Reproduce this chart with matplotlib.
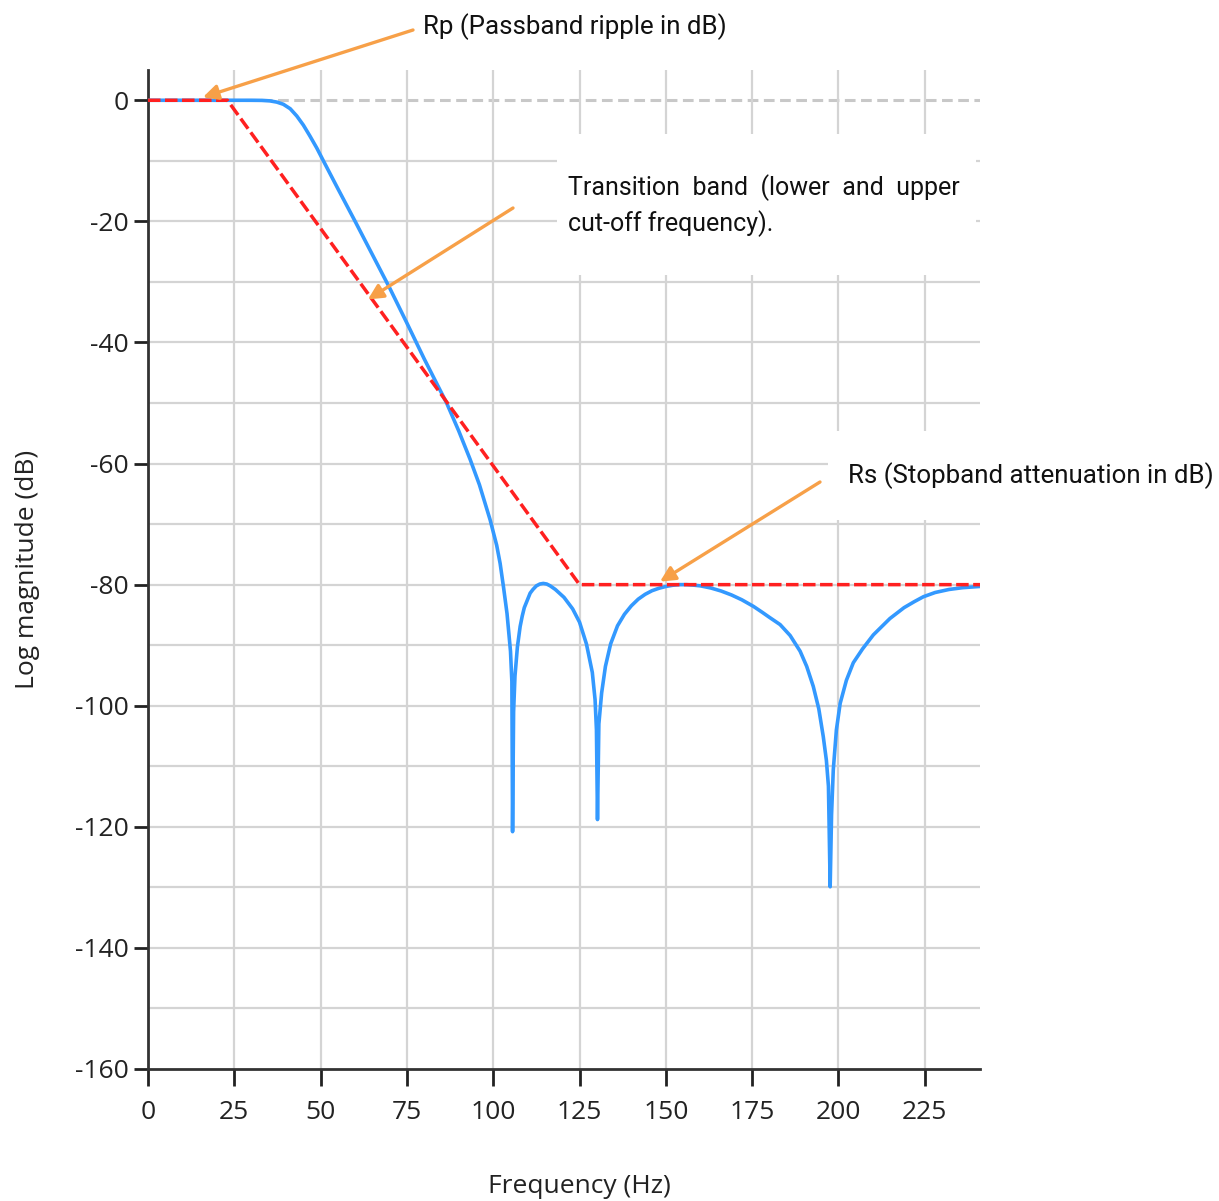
import numpy as np
import matplotlib
matplotlib.use("Agg")
import matplotlib.pyplot as plt
from matplotlib.ticker import FixedLocator
from matplotlib.patches import Rectangle

plt.rcParams['axes.unicode_minus'] = False

# Đáp ứng biên độ
tan_so = [0, 10, 20, 30, 33, 35.3, 37.3, 39.2, 41.2, 43.1, 45, 46.9, 48.9,
          50.8, 55, 60, 65, 70, 75, 80, 86.5, 90, 93.3, 96, 99.1, 101, 102,
          103, 104, 105, 105.4, 105.6, 105.9, 106.3, 107, 107.8, 108.4, 109,
          110.7, 111.5, 112.5, 113.5, 114.5, 115.5, 116.5, 118, 120.5, 123,
          125, 127, 128.7, 129.5, 129.9, 130.2, 130.6, 131.4, 132.5, 134, 136,
          138, 140, 142, 144, 146, 148, 150, 152, 154, 156, 158, 160, 163, 166,
          169, 172, 175.4, 178, 180, 183.1, 186, 188.9, 190.8, 192.7, 194.3,
          195.6, 196.5, 197.1, 197.6, 198, 198.5, 199.4, 200.5, 202.3, 204.3,
          207, 210.1, 214.9, 219, 222, 224.6, 228, 232, 236, 241]
bien_do = [0, 0, 0, 0, -0.02, -0.1, -0.3, -0.66, -1.4, -2.6, -4.1, -5.9,
           -7.9, -10.0, -14.6, -20.0, -25.5, -31.0, -36.8, -42.7, -50.0, -54.6,
           -59.3, -63.5, -69.3, -73.5, -76.5, -80.5, -84.8, -91.0, -96.0,
           -120.8, -101.0, -95.1, -90.3, -86.9, -85.2, -83.8, -81.4, -80.8,
           -80.2, -79.9, -79.8, -79.9, -80.2, -80.8, -82.1, -84.0, -86.2,
           -89.8, -94.5, -99.0, -104.0, -118.8, -103.0, -97.9, -93.5, -89.8,
           -86.8, -84.9, -83.5, -82.4, -81.6, -81.0, -80.6, -80.3, -80.1,
           -80.0, -80.0, -80.08, -80.2, -80.55, -81.05, -81.7, -82.5, -83.6,
           -84.6, -85.4, -86.6, -88.4, -91.0, -93.5, -96.8, -100.5, -105.1,
           -109.0, -113.3, -129.9, -118.0, -110.6, -104.0, -99.6, -95.8, -92.9,
           -90.6, -88.3, -85.6, -83.8, -82.8, -82.0, -81.3, -80.8, -80.5, -80.3]

# Mặt nạ thiết kế (đường đỏ)
mat_na_f = [0, 23, 125, 241]
mat_na_db = [0, 0, -80, -80]

y_ticks = [0, -20, -40, -60, -80, -100, -120, -140, -160]
x_ticks = [0, 25, 50, 75, 100, 125, 150, 175, 200, 225]

font_tick = ['Open Sans', 'DejaVu Sans']
font_note = ['Roboto', 'DejaVu Sans']
cam = '#F7A048'

fig = plt.figure(figsize=(12.19, 12.01), dpi=100)
ax = fig.add_axes([148/1219, 1 - 1069/1201, 832/1219, 999/1201])

ax.set_xlim(0, 241)
ax.set_ylim(-160, 5)

# lưới
ax.set_xticks(x_ticks)
ax.set_yticks(y_ticks)
ax.yaxis.set_minor_locator(FixedLocator(np.arange(-150, 0, 10)))
ax.yaxis.remove_overlapping_locs = False
ax.grid(axis='x', which='major', color='#d4d4d4', lw=1.6)
ax.grid(axis='y', which='minor', color='#d4d4d4', lw=1.6)
ax.tick_params(axis='y', which='minor', length=0)
ax.axhline(0, color='#c8c8c8', lw=2.2, ls=(0, (3.5, 1.8)), zorder=1.5)

# hộp trắng sau chữ
ax.add_patch(Rectangle((118.5, -28.8), 121.2, 23.2, fc='white', ec='none', zorder=1.8))
ax.add_patch(Rectangle((197.0, -69.3), 60, 14.6, fc='white', ec='none', zorder=1.8, clip_on=False))

ax.plot(tan_so, bien_do, color='#3399FF', lw=2.6, zorder=3)
ax.plot(mat_na_f, mat_na_db, color='#FF2020', lw=2.5, ls=(0, (3.6, 1.3)), zorder=4)

for s in ['top', 'right']:
    ax.spines[s].set_visible(False)
for s in ['left', 'bottom']:
    ax.spines[s].set_color('#333333')
    ax.spines[s].set_linewidth(2)
ax.tick_params(axis='y', which='major', length=10, width=2, color='#222222', pad=4)
ax.tick_params(axis='x', which='major', length=12, width=2, color='#222222', pad=10)
for lb in ax.get_xticklabels() + ax.get_yticklabels():
    lb.set_family(font_tick)
    lb.set_fontsize(19)
    lb.set_color('#222222')

ax.set_xlabel('Frequency (Hz)', family=font_tick, fontsize=19, color='#222222')
ax.set_ylabel('Log magnitude (dB)', family=font_tick, fontsize=19, color='#222222')
ax.xaxis.set_label_coords(0.519, -0.105)
ax.yaxis.set_label_coords(-0.13, 0.5)

# chú thích
mui_ten = dict(arrowstyle='-|>,head_length=0.9,head_width=0.45', color=cam, lw=2.4,
               shrinkA=0, shrinkB=0)
ax.annotate('', xy=(15.9, 0.5), xycoords='data', xytext=(413, 1171),
            textcoords='figure pixels', arrowprops=mui_ten, zorder=6)
ax.annotate('', xy=(63.7, -32.9), xycoords='data', xytext=(513, 993),
            textcoords='figure pixels', arrowprops=mui_ten, zorder=6)
ax.annotate('', xy=(148.3, -79.5), xycoords='data', xytext=(820, 719),
            textcoords='figure pixels', arrowprops=mui_ten, zorder=6)

fig.text(423/1219, 1 - 27/1201, 'Rp (Passband ripple in dB)', family=font_note,
         fontsize=18.6, ha='left', va='center', color='#111111')
fig.text(568/1219, 1 - 188/1201, 'Transition  band  (lower  and  upper', family=font_note,
         fontsize=18, ha='left', va='center', color='#111111')
fig.text(568/1219, 1 - 224/1201, 'cut-off frequency).', family=font_note,
         fontsize=18, ha='left', va='center', color='#111111')
fig.text(848/1219, 1 - 476/1201, 'Rs (Stopband attenuation in dB)', family=font_note,
         fontsize=18.6, ha='left', va='center', color='#111111')

fig.savefig('out.png', dpi=100, facecolor='white')
